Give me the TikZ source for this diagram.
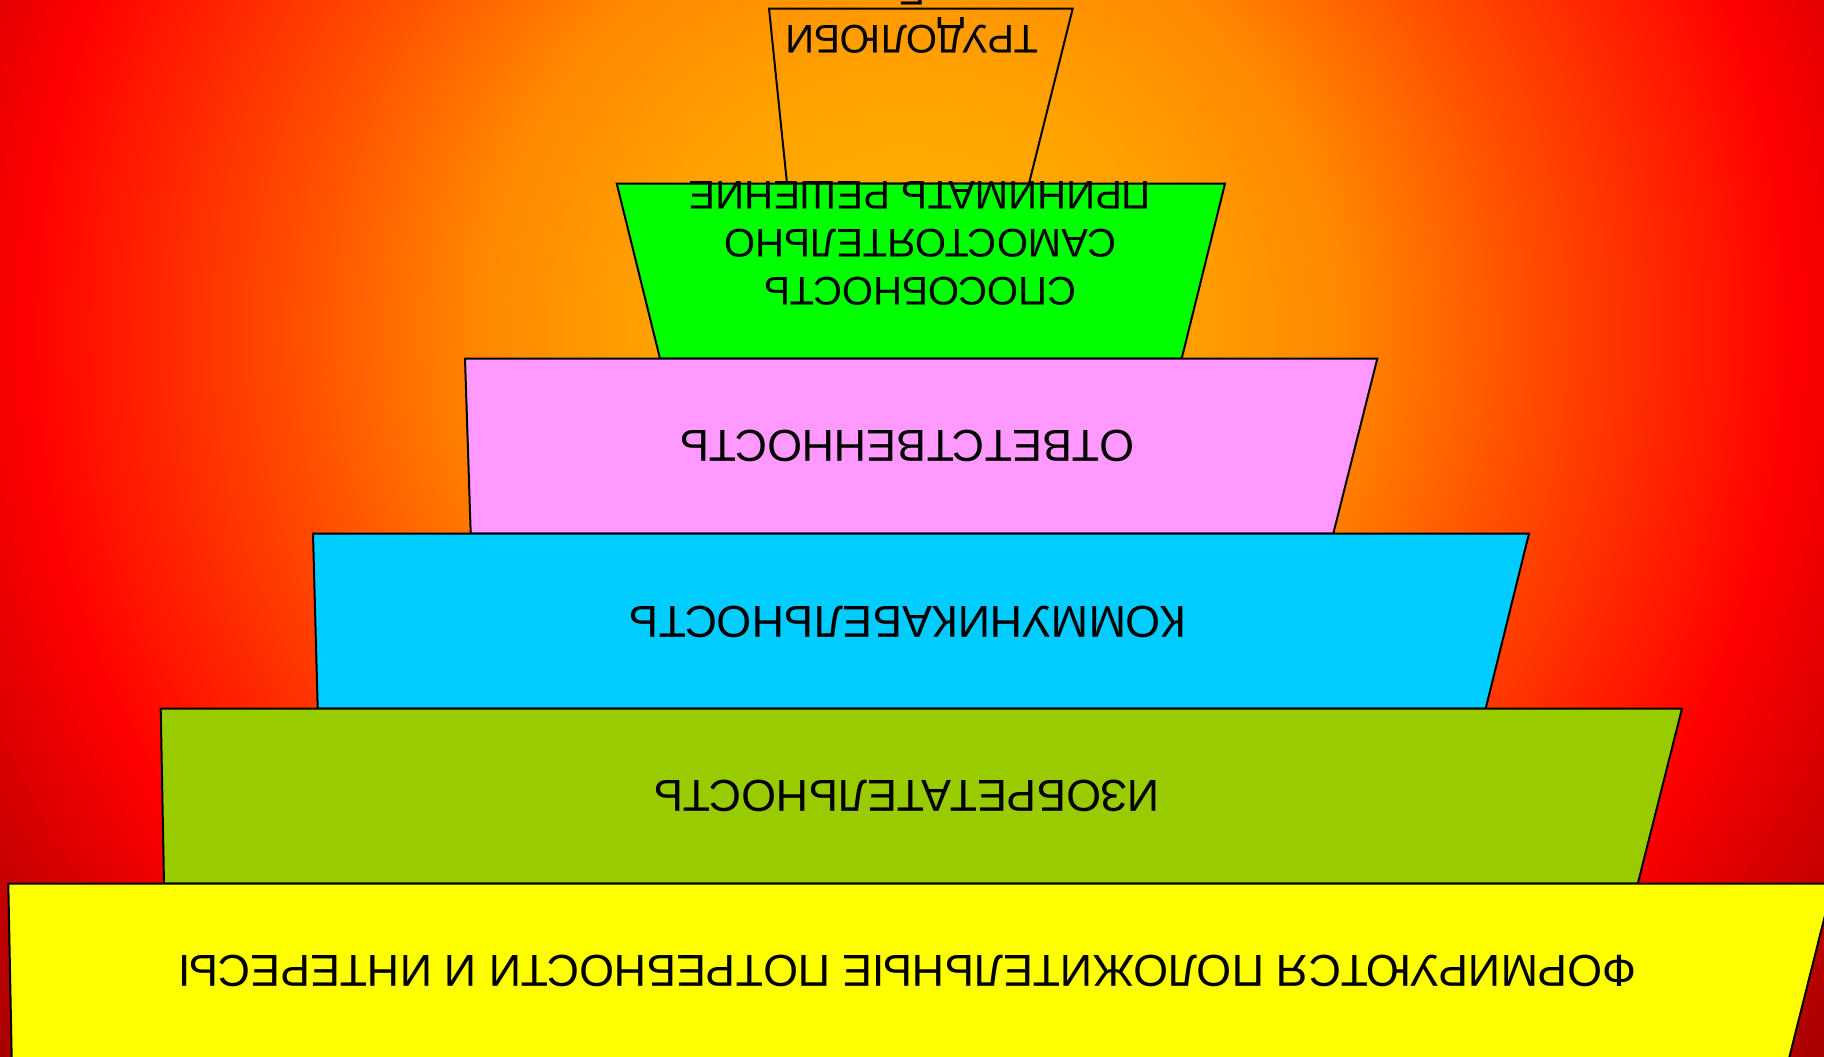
\documentclass[tikz,border=0pt]{standalone}
\usepackage{fontspec}
\setmainfont{Liberation Sans}
\definecolor{g0}{HTML}{FFB800}
\definecolor{g1}{HTML}{FFA000}
\definecolor{g2}{HTML}{FF8800}
\definecolor{g3}{HTML}{FF5500}
\definecolor{g4}{HTML}{FF0000}
\definecolor{g5}{HTML}{C00000}
\definecolor{g6}{HTML}{800000}
\definecolor{cGreen}{HTML}{00FF00}
\definecolor{cPink}{HTML}{FF99FF}
\definecolor{cCyan}{HTML}{00CCFF}
\definecolor{cOlive}{HTML}{99CC00}
\definecolor{cYellow}{HTML}{FFFF00}
\pgfdeclareradialshading{bgshade}{\pgfpoint{0bp}{0bp}}{color(0bp)=(g0); color(5.2bp)=(g1); color(8.3bp)=(g2); color(11.4bp)=(g3); color(17bp)=(g4); color(20.8bp)=(g5); color(25bp)=(g6); color(50bp)=(g6)}
\begin{document}
\begin{tikzpicture}[x=0.5pt,y=-0.5pt,
  box/.style={draw=black,line width=1pt,line join=miter},
  lbl/.style={rotate=180,font=\fontsize{20}{24}\selectfont,inner sep=0pt,align=center},
  one/.style={rotate=180,font=\fontsize{22.4}{24}\selectfont,inner sep=0pt,text height=0.7em,text depth=0pt}]
\useasboundingbox (0,0) rectangle (1824,1056);
\begin{scope}
\clip (0,0) rectangle (1824,1056);
\shade[shading=bgshade] (910,330) circle[radius=650pt];
\draw[box] (769,8.5) -- (1072.7,8.5) -- (1029,183.5) -- (787,183.5) -- cycle;
\draw[box,fill=cGreen] (616.7,183.5) -- (1225,183.5) -- (1181.7,358.5) -- (660,358.5) -- cycle;
\draw[box,fill=cPink] (465,358.5) -- (1377.3,358.5) -- (1333.3,533.5) -- (470.7,533.5) -- cycle;
\draw[box,fill=cCyan] (313,533.5) -- (1529,533.5) -- (1485.7,708.5) -- (317.7,708.5) -- cycle;
\draw[box,fill=cOlive] (160.7,708.5) -- (1682,708.5) -- (1637.8,883.5) -- (164,883.5) -- cycle;
\draw[box,fill=cYellow] (8.3,883.5) -- (1833,883.5) -- (1789,1058.5) -- (11.7,1058.5) -- cycle;
\node[lbl] (t1) at (912,15.5) {ТРУДОЛЮБИ\\Е};
\node[lbl] (t2) at (920,243) {СПОСОБНОСТЬ\\САМОСТОЯТЕЛЬНО\\ПРИНИМАТЬ РЕШЕНИЕ};
\node[one] (t3) at (907,437) {ОТВЕТСТВЕННОСТЬ};
\node[one] (t4) at (908,613) {КОММУНИКАБЕЛЬНОСТЬ};
\node[one] (t5) at (907,787) {ИЗОБРЕТАТЕЛЬНОСТЬ};
\node[one] (t6) at (907.5,962) {ФОРМИРУЮТСЯ ПОЛОЖИТЕЛЬНЫЕ ПОТРЕБНОСТИ И ИНТЕРЕСЫ};
\end{scope}
\end{tikzpicture}
\end{document}
